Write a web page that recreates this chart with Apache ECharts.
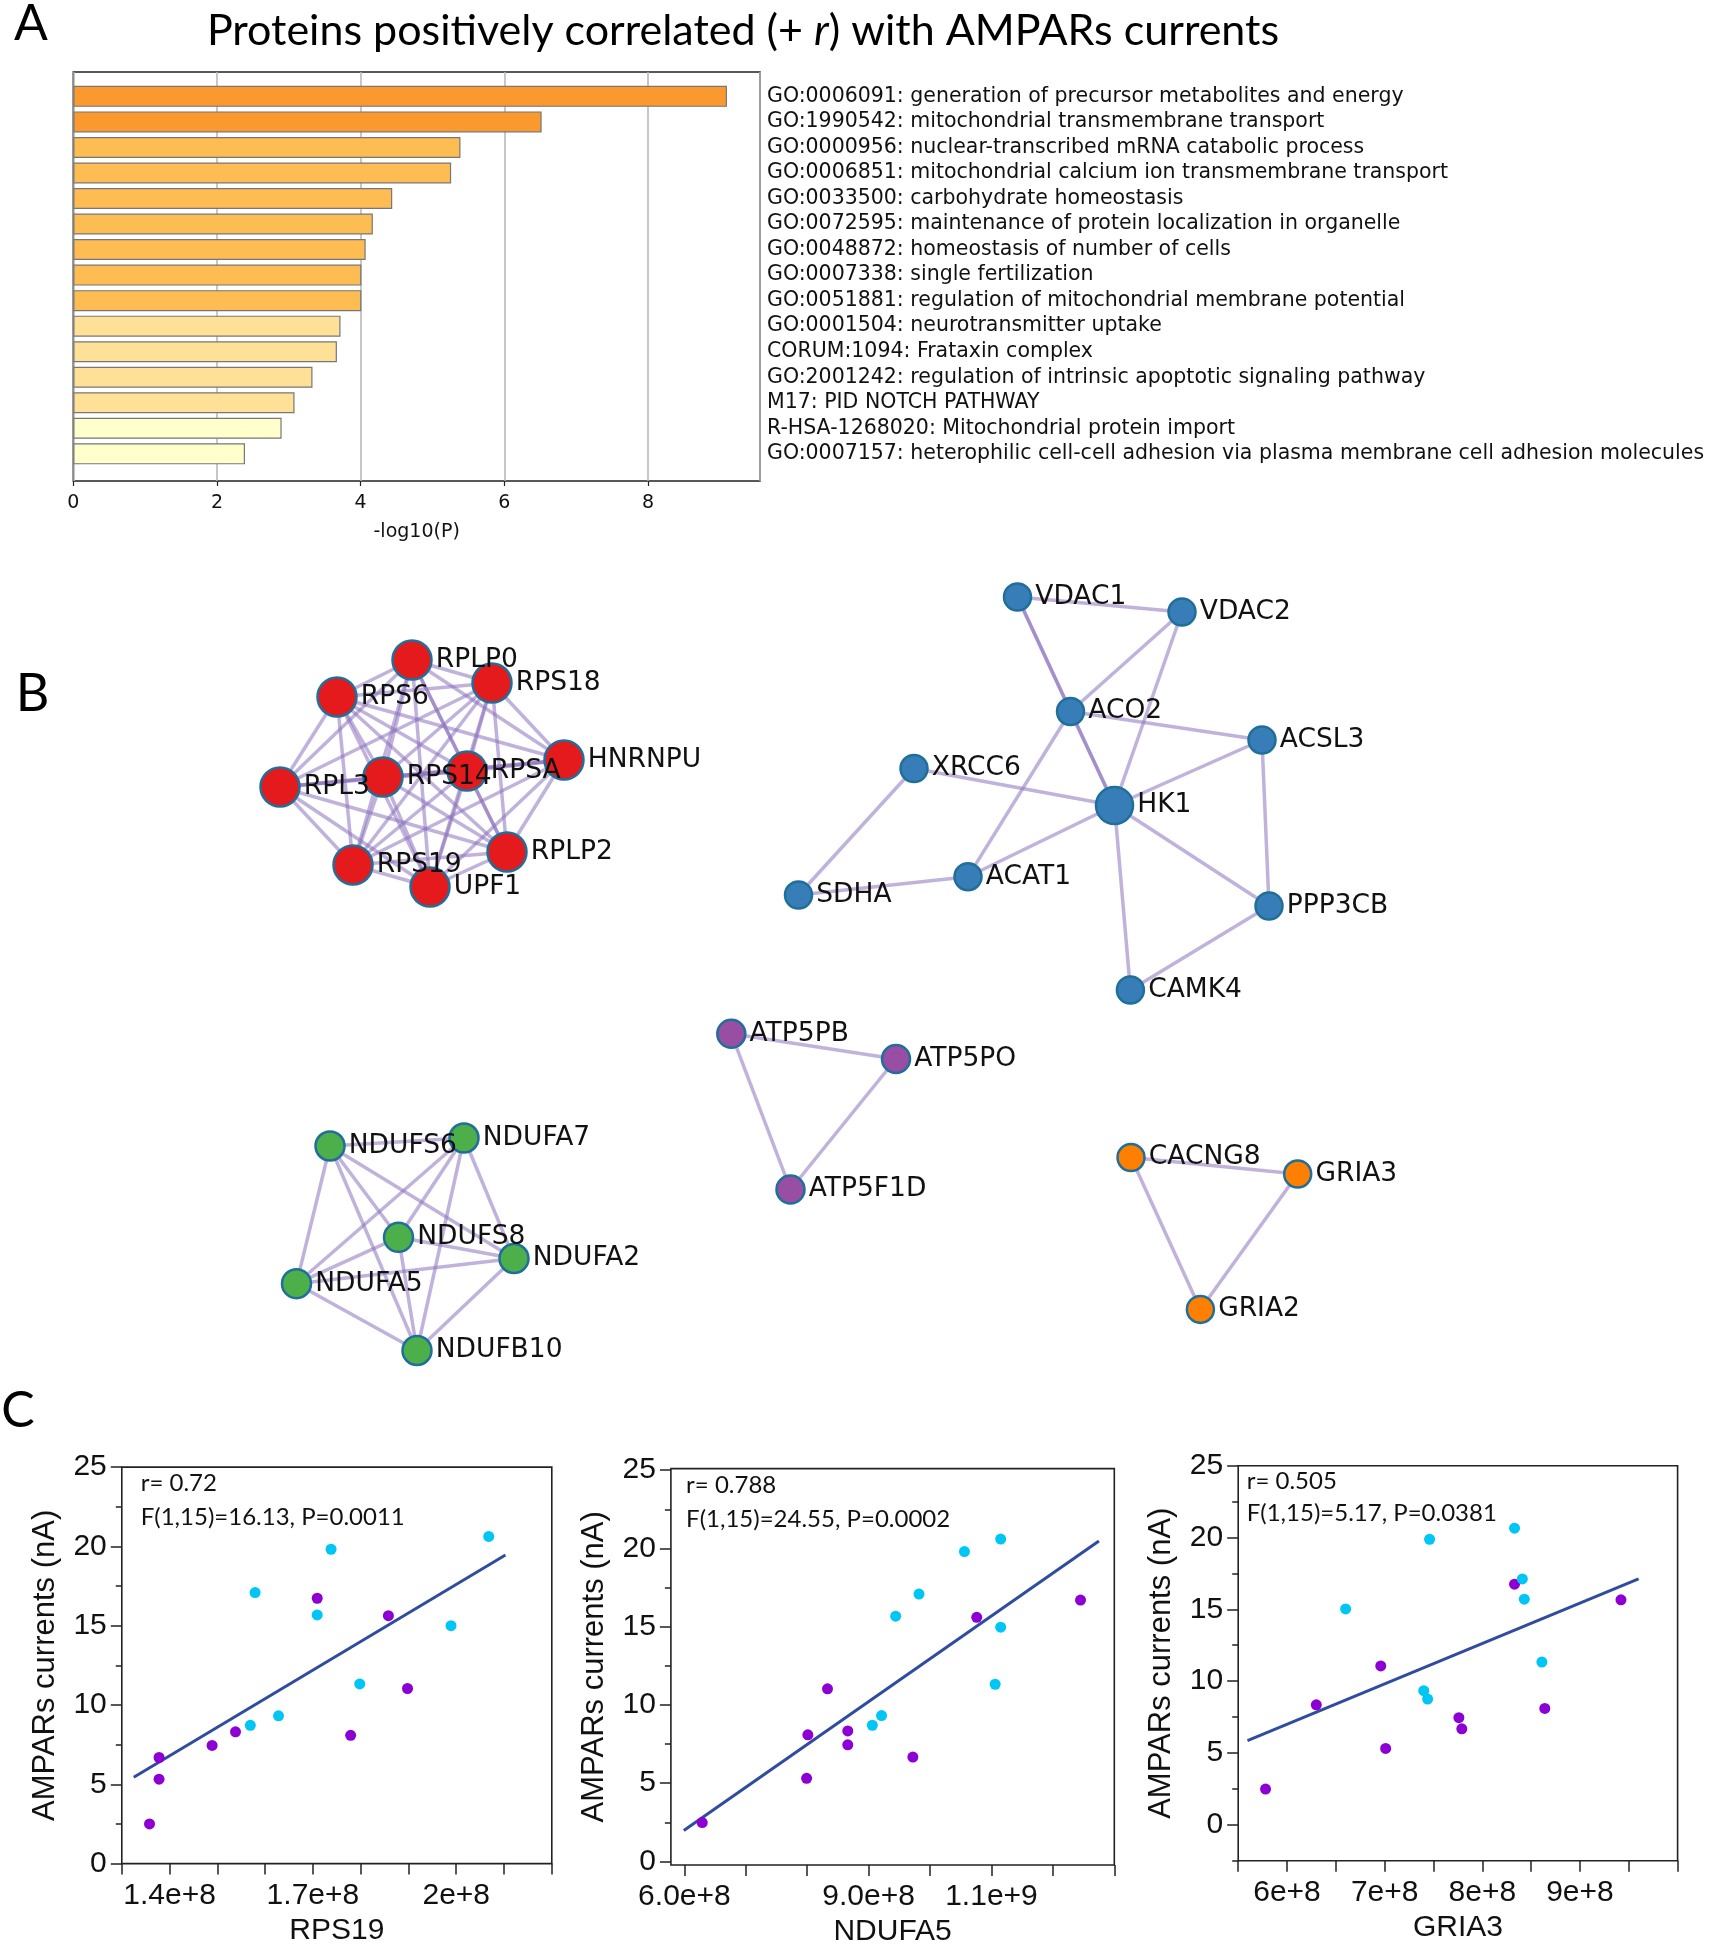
<!DOCTYPE html>
<html><head><meta charset="utf-8">
<script src="https://cdn.jsdelivr.net/npm/echarts@6/dist/echarts.min.js"></script>
<style>html,body{margin:0;padding:0;background:#fff}#c{width:1711px;height:1950px}</style>
</head><body><div id="c"></div>
<script>
// ================= DATA =================
// Panel A: enrichment terms
const goTerms = [
  'GO:0006091: generation of precursor metabolites and energy',
  'GO:1990542: mitochondrial transmembrane transport',
  'GO:0000956: nuclear-transcribed mRNA catabolic process',
  'GO:0006851: mitochondrial calcium ion transmembrane transport',
  'GO:0033500: carbohydrate homeostasis',
  'GO:0072595: maintenance of protein localization in organelle',
  'GO:0048872: homeostasis of number of cells',
  'GO:0007338: single fertilization',
  'GO:0051881: regulation of mitochondrial membrane potential',
  'GO:0001504: neurotransmitter uptake',
  'CORUM:1094: Frataxin complex',
  'GO:2001242: regulation of intrinsic apoptotic signaling pathway',
  'M17: PID NOTCH PATHWAY',
  'R-HSA-1268020: Mitochondrial protein import',
  'GO:0007157: heterophilic cell-cell adhesion via plasma membrane cell adhesion molecules'
];
const goLogP = [9.10, 6.52, 5.39, 5.26, 4.44, 4.17, 4.07, 4.01, 4.01, 3.72, 3.67, 3.33, 3.08, 2.90, 2.39];
const goPGroup = [0, 0, 1, 1, 1, 1, 1, 1, 1, 2, 2, 2, 2, 3, 3];

// Panel B: network (layout units)
const nodeNames = ['RPLP0','RPS18','RPS6','HNRNPU','RPS14','RPSA','RPL3','RPS19','RPLP2','UPF1',
  'VDAC1','VDAC2','ACO2','ACSL3','XRCC6','HK1','ACAT1','SDHA','PPP3CB','CAMK4',
  'ATP5PB','ATP5PO','ATP5F1D',
  'NDUFS6','NDUFA7','NDUFS8','NDUFA2','NDUFA5','NDUFB10',
  'CACNG8','GRIA3','GRIA2'];
const nodeLayoutX = [16.2, 24.2, 8.7, 31.4, 13.3, 21.7, 3.0, 10.3, 25.7, 18.0,
  76.75, 93.2, 82.05, 101.2, 66.4, 86.45, 71.8, 54.85, 101.9, 88.04,
  48.13, 64.6, 54.05,
  8.0, 21.4, 14.85, 26.4, 4.65, 16.7,
  88.1, 104.77, 95.04];
const nodeLayoutY = [9.0, 11.3, 12.7, 19.0, 20.7, 20.1, 21.7, 29.5, 28.2, 31.7,
  2.7, 4.2, 14.15, 17.0, 19.85, 23.55, 30.67, 32.5, 33.6, 42.0,
  46.37, 48.9, 61.95,
  57.6, 56.8, 66.73, 68.85, 71.37, 78.05,
  58.75, 60.4, 73.94];
const nodeCluster = [0,0,0,0,0,0,0,0,0,0, 1,1,1,1,1,1,1,1,1,1, 2,2,2, 3,3,3,3,3,3, 4,4,4];
const networkEdges = [
  ['RPLP0','RPS18'],['RPLP0','RPS6'],['RPLP0','HNRNPU'],['RPLP0','RPS14'],['RPLP0','RPSA'],['RPLP0','RPL3'],['RPLP0','RPS19'],['RPLP0','RPLP2'],['RPLP0','UPF1'],
  ['RPS18','RPS6'],['RPS18','HNRNPU'],['RPS18','RPS14'],['RPS18','RPSA'],['RPS18','RPL3'],['RPS18','RPS19'],['RPS18','RPLP2'],['RPS18','UPF1'],
  ['RPS6','HNRNPU'],['RPS6','RPS14'],['RPS6','RPSA'],['RPS6','RPL3'],['RPS6','RPS19'],['RPS6','RPLP2'],['RPS6','UPF1'],
  ['HNRNPU','RPS14'],['HNRNPU','RPSA'],['HNRNPU','RPL3'],['HNRNPU','RPS19'],['HNRNPU','RPLP2'],['HNRNPU','UPF1'],
  ['RPS14','RPSA'],['RPS14','RPL3'],['RPS14','RPS19'],['RPS14','RPLP2'],['RPS14','UPF1'],
  ['RPSA','RPL3'],['RPSA','RPS19'],['RPSA','RPLP2'],['RPSA','UPF1'],
  ['RPL3','RPS19'],['RPL3','RPLP2'],['RPL3','UPF1'],
  ['RPS19','RPLP2'],['RPS19','UPF1'],['RPLP2','UPF1'],
  ['VDAC1','VDAC2'],['VDAC1','ACO2'],['ACO2','HK1'],['VDAC1','HK1'],['VDAC2','ACO2'],['VDAC2','HK1'],
  ['ACO2','ACSL3'],['ACO2','ACAT1'],['HK1','ACSL3'],['XRCC6','HK1'],['XRCC6','SDHA'],['SDHA','ACAT1'],
  ['ACAT1','HK1'],['HK1','PPP3CB'],['HK1','CAMK4'],['ACSL3','PPP3CB'],['PPP3CB','CAMK4'],
  ['ATP5PB','ATP5PO'],['ATP5PB','ATP5F1D'],['ATP5PO','ATP5F1D'],
  ['NDUFS6','NDUFA7'],['NDUFS6','NDUFS8'],['NDUFS6','NDUFA2'],['NDUFS6','NDUFA5'],['NDUFS6','NDUFB10'],
  ['NDUFA7','NDUFS8'],['NDUFA7','NDUFA2'],['NDUFA7','NDUFA5'],['NDUFA7','NDUFB10'],
  ['NDUFS8','NDUFA2'],['NDUFS8','NDUFA5'],['NDUFS8','NDUFB10'],
  ['NDUFA2','NDUFA5'],['NDUFA2','NDUFB10'],['NDUFA5','NDUFB10'],
  ['CACNG8','GRIA3'],['CACNG8','GRIA2'],['GRIA3','GRIA2']
];

// Panel C: scatter data [protein level, AMPAR current nA]
const rps19Purple = [[1.358e8,2.50],[1.378e8,6.69],[1.378e8,5.32],[1.489e8,7.45],[1.538e8,8.31],[1.709e8,16.73],[1.779e8,8.09],[1.858e8,15.63],[1.898e8,11.04]];
const rps19Cyan = [[1.569e8,8.72],[1.579e8,17.09],[1.628e8,9.32],[1.709e8,15.68],[1.738e8,19.82],[1.798e8,11.33],[1.989e8,15.00],[2.068e8,20.63]];
const rps19Fit = [[1.325e8,5.45],[2.103e8,19.46]];
const rps19TickValues = [1.3e8,1.4e8,1.5e8,1.6e8,1.7e8,1.8e8,1.9e8,2.0e8,2.1e8,2.2e8];
const rps19LabelValues = [1.4e8,1.7e8,2.0e8];
const rps19TickLabels = ['1.4e+8','1.7e+8','2e+8'];

const ndufa5Purple = [[6.29e8,2.48],[7.99e8,5.31],[8.01e8,8.09],[8.33e8,11.03],[8.66e8,8.34],[8.66e8,7.45],[9.72e8,6.67],[10.76e8,15.60],[12.45e8,16.70]];
const ndufa5Cyan = [[9.06e8,8.70],[9.21e8,9.32],[9.44e8,15.67],[9.82e8,17.08],[10.56e8,19.80],[11.06e8,11.32],[11.15e8,14.97],[11.15e8,20.60]];
const ndufa5Fit = [[5.99e8,1.98],[12.75e8,20.48]];
const ndufa5TickValues = [6e8,7e8,8e8,9e8,10e8,11e8,12e8,13e8];
const ndufa5LabelValues = [6e8,9e8,11e8];
const ndufa5TickLabels = ['6.0e+8','9.0e+8','1.1e+9'];

const gria3Purple = [[5.78e8,2.49],[6.30e8,8.35],[6.96e8,11.06],[7.01e8,5.32],[7.76e8,7.46],[7.79e8,6.68],[8.33e8,16.75],[8.64e8,8.10],[9.42e8,15.66]];
const gria3Cyan = [[6.60e8,15.03],[7.40e8,9.34],[7.44e8,8.75],[7.46e8,19.88],[8.33e8,20.65],[8.41e8,17.12],[8.43e8,15.71],[8.61e8,11.33]];
const gria3Fit = [[5.595e8,5.86],[9.60e8,17.12]];
const gria3TickValues = [5.5e8,6e8,6.5e8,7e8,7.5e8,8e8,8.5e8,9e8,9.5e8,10e8];
const gria3LabelValues = [6e8,7e8,8e8,9e8];
const gria3TickLabels = ['6e+8','7e+8','8e+8','9e+8'];

const currentMajorTicks = [0,5,10,15,20,25];
const currentMinorTicks = [2.5,7.5,12.5,17.5,22.5];
const currentMinorTicksNeg = [-2.5,2.5,7.5,12.5,17.5,22.5];

const statsRPS19 = ['r= 0.72','F(1,15)=16.13, P=0.0011'];
const statsNDUFA5 = ['r= 0.788','F(1,15)=24.55, P=0.0002'];
const statsGRIA3 = ['r= 0.505','F(1,15)=5.17, P=0.0381'];

// ================= STYLES =================
const barPalette = ['#F9992E','#FDBD52','#FEE196','#FFFFCC'];
const clusterPalette = ['#E41A1C','#377EB8','#984EA3','#4DAF4A','#FF7F00'];
const clusterNodeSize = [39, 27, 28, 29, 27];
const nodeSizeOverride = {HK1: 37};
const purpleDot = '#8C00D4';
const cyanDot = '#00C6F5';
const fitColor = '#2F4C9E';
const axisFont = 'Liberation Sans';

const scatterPanels = [
  {grid:{left:121.8, top:1467.1, width:430, height:396.5}, xMin:1.3e8, xMax:2.2e8, yMin:0, yMax:25,
   ticks:rps19TickValues, labVals:rps19LabelValues, labs:rps19TickLabels, minor:currentMinorTicks,
   name:'RPS19', purple:rps19Purple, cyan:rps19Cyan, fit:rps19Fit, stats:statsRPS19, sx:140.7, sy1:1482.9, sy2:1516.8},
  {grid:{left:670.9, top:1468.6, width:443.4, height:396.4}, xMin:5.78e8, xMax:13e8, yMin:-0.23, yMax:25.1,
   ticks:ndufa5TickValues, labVals:ndufa5LabelValues, labs:ndufa5TickLabels, minor:currentMinorTicks,
   name:'NDUFA5', purple:ndufa5Purple, cyan:ndufa5Cyan, fit:ndufa5Fit, stats:statsNDUFA5, sx:686.1, sy1:1485.7, sy2:1519.3},
  {grid:{left:1238.2, top:1465.7, width:439.4, height:395}, xMin:5.5e8, xMax:10e8, yMin:-2.5, yMax:25,
   ticks:gria3TickValues, labVals:gria3LabelValues, labs:gria3TickLabels, minor:currentMinorTicksNeg,
   name:'GRIA3', purple:gria3Purple, cyan:gria3Cyan, fit:gria3Fit, stats:statsGRIA3, sx:1246.7, sy1:1481, sy2:1513.2}
];

// ================= BUILD =================
const grids = [
  {left:73.3, top:72, width:686.7, height:409, show:true, borderColor:'#222', borderWidth:1.5, backgroundColor:'transparent'},
  {left:73.3, top:83.6, width:686.7, height:383},
  {left:250, top:570, width:1100, height:820}
];
const xAxes = [
  {gridIndex:0, type:'value', min:0, max:9.56, interval:2,
   axisLine:{show:false, onZero:false}, axisTick:{show:true, length:5, lineStyle:{color:'#222', width:1.2}},
   axisLabel:{fontFamily:'DejaVu Sans', fontSize:19, color:'#111', margin:13, showMaxLabel:false},
   splitLine:{show:true, lineStyle:{color:'#b5b5b5', width:1.5}},
   name:'-log10(P)', nameLocation:'middle', nameGap:42,
   nameTextStyle:{fontFamily:'DejaVu Sans', fontSize:19, color:'#111'}},
  {gridIndex:1, type:'value', min:0, max:9.56, show:false},
  {gridIndex:2, type:'value', min:0, max:110, show:false}
];
const yAxes = [
  {gridIndex:0, type:'value', min:0, max:1, show:false},
  {gridIndex:1, type:'category', data:goTerms, inverse:true, position:'right',
   axisLine:{show:false}, axisTick:{show:false},
   axisLabel:{align:'left', margin:7, fontFamily:'DejaVu Sans', fontSize:20.5, color:'#111', interval:0}},
  {gridIndex:2, type:'value', min:0, max:82, inverse:true, show:false}
];
const series = [
  {type:'bar', xAxisIndex:1, yAxisIndex:1, barWidth:21, silent:true,
   data: goLogP.map((v,i)=>({value:v, itemStyle:{color:barPalette[goPGroup[i]]}})),
   itemStyle:{borderColor:'#777', borderWidth:1.2}},
  {type:'graph', coordinateSystem:'cartesian2d', xAxisIndex:2, yAxisIndex:2, silent:true,
   data: nodeNames.map((n,i)=>({name:n, value:[nodeLayoutX[i], nodeLayoutY[i]],
     symbolSize: nodeSizeOverride[n] || clusterNodeSize[nodeCluster[i]],
     itemStyle:{color:clusterPalette[nodeCluster[i]], borderColor:'#1F6F9A', borderWidth:2.5}})),
   links: networkEdges.map(e=>({source:e[0], target:e[1]})),
   lineStyle:{color:'rgb(140,115,190)', width:3.5, opacity:0.55, curveness:0},
   label:{show:true, position:'right', distance:3, fontFamily:'DejaVu Sans', fontSize:26.5, color:'#111'}}
];
const graphics = [
  {type:'text', x:31, y:24, style:{text:'A', font:'50px Lato', fill:'#000', align:'center', verticalAlign:'middle'}},
  {type:'text', x:32.5, y:694, style:{text:'B', font:'52px Lato', fill:'#000', align:'center', verticalAlign:'middle'}},
  {type:'text', x:18, y:1411, style:{text:'C', font:'50px Lato', fill:'#000', align:'center', verticalAlign:'middle'}},
  {type:'text', x:743, y:31, style:{
     text:'{a|Proteins positively correlated (+ }{i|r}{a|) with AMPARs currents}',
     rich:{a:{fontFamily:'Lato', fontSize:43, fill:'#000', color:'#000'}, i:{fontFamily:'Lato', fontSize:43, fontStyle:'italic', fill:'#000', color:'#000'}},
     align:'center', verticalAlign:'middle'}}
];

const lookup = (vals, labs) => v => {
  for (let i = 0; i < vals.length; i++) if (Math.abs(vals[i] - v) <= Math.abs(vals[i]) * 1e-6) return labs[i];
  return '';
};

scatterPanels.forEach((p, k) => {
  const g = grids.length;
  grids.push(Object.assign({show:true, borderColor:'#222', borderWidth:1.6, backgroundColor:'transparent'}, p.grid));
  const xi = xAxes.length;
  xAxes.push({gridIndex:g, type:'value', min:p.xMin, max:p.xMax,
    axisLine:{show:false, onZero:false}, splitLine:{show:false},
    axisTick:{show:true, length:11, customValues:p.ticks, lineStyle:{color:'#222', width:1.5}},
    axisLabel:{customValues:p.labVals, formatter:lookup(p.labVals, p.labs), fontFamily:axisFont, fontSize:30, color:'#111', margin:17},
    name:p.name, nameLocation:'middle', nameGap:52,
    nameTextStyle:{fontFamily:axisFont, fontSize:30, color:'#111'}});
  const yi = yAxes.length;
  yAxes.push({gridIndex:g, type:'value', position:'left', min:p.yMin, max:p.yMax,
    axisLine:{show:false, onZero:false}, splitLine:{show:false},
    axisTick:{show:true, length:11, customValues:currentMajorTicks, lineStyle:{color:'#222', width:1.5}},
    axisLabel:{customValues:currentMajorTicks, fontFamily:axisFont, fontSize:30, color:'#111', margin:15},
    name:'AMPARs currents (nA)', nameLocation:'middle', nameGap:61,
    nameTextStyle:{fontFamily:axisFont, fontSize:31, color:'#111'}});
  yAxes.push({gridIndex:g, type:'value', position:'left', offset:0, min:p.yMin, max:p.yMax,
    axisLine:{show:false, onZero:false}, splitLine:{show:false}, axisLabel:{show:false},
    axisTick:{show:true, length:6, customValues:p.minor, lineStyle:{color:'#222', width:1.5}}});
  series.push({type:'line', xAxisIndex:xi, yAxisIndex:yi, data:p.fit, showSymbol:false, silent:true,
    lineStyle:{color:fitColor, width:3}, z:2});
  series.push({type:'scatter', xAxisIndex:xi, yAxisIndex:yi, data:p.purple, symbolSize:11, silent:true,
    itemStyle:{color:purpleDot, opacity:1}, z:3});
  series.push({type:'scatter', xAxisIndex:xi, yAxisIndex:yi, data:p.cyan, symbolSize:11, silent:true,
    itemStyle:{color:cyanDot, opacity:1}, z:3});
  graphics.push({type:'text', x:p.sx, y:p.sy1, style:{text:p.stats[0], font:'24px Lato', fill:'#111', align:'left', verticalAlign:'middle'}});
  graphics.push({type:'text', x:p.sx, y:p.sy2, style:{text:p.stats[1], font:'24px Lato', fill:'#111', align:'left', verticalAlign:'middle'}});
});

const chart = echarts.init(document.getElementById('c'), null, {renderer:'canvas'});
chart.setOption({
  backgroundColor:'#fff',
  animation:false,
  textStyle:{fontFamily:'DejaVu Sans'},
  grid:grids, xAxis:xAxes, yAxis:yAxes, series:series, graphic:graphics
});
</script>
</body></html>
